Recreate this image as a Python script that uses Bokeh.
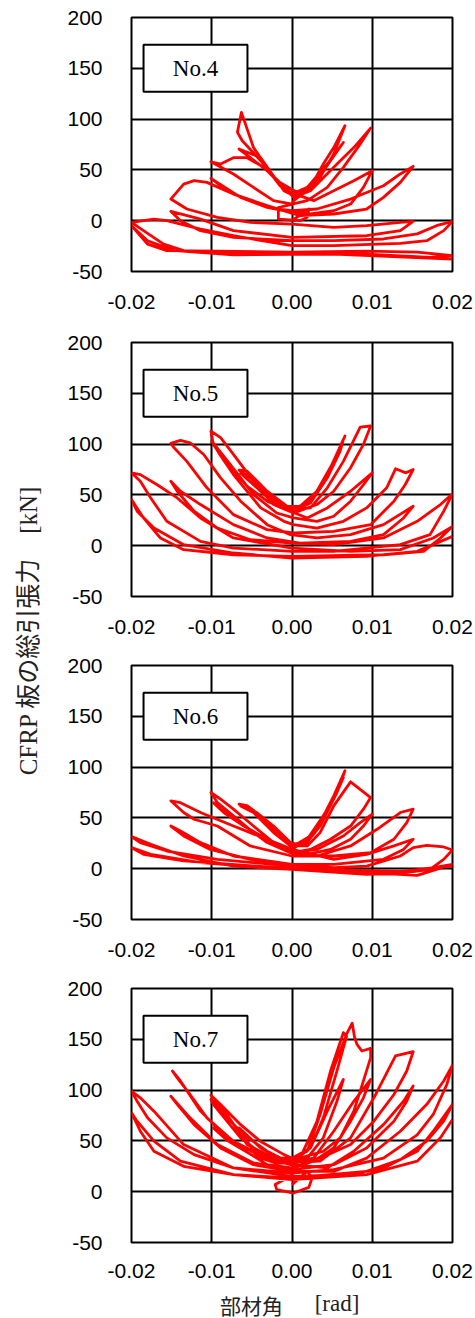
import math
from bokeh.plotting import figure
from bokeh.models import Range1d, FixedTicker
from bokeh.layouts import row, column
from bokeh.embed import file_html
from bokeh.resources import INLINE
from bokeh.core.properties import value

# ---------------- data ----------------
x_ticks = [-0.02, -0.01, 0.0, 0.01, 0.02]
x_tick_labels = ["-0.02", "-0.01", "0.00", "0.01", "0.02"]
y_ticks = [-50, 0, 50, 100, 150, 200]
y_tick_labels = ["-50", "0", "50", "100", "150", "200"]
panel_names = ["No.4", "No.5", "No.6", "No.7"]
x_title_jp = "部材角"
x_title_unit = "[rad]"
y_title = "CFRP 板の総引張力　[kN]"

# No.4
x4 = [0, 0.0021, 0.0019, 0.001, -0.0017, -0.0017, 0,
      0.0002, 0.0019, 0.0035, 0.0052, 0.0066, 0.0052, 0.0039, 0.0023, 0.0006, -0.001, -0.0031, -0.0048, -0.0063, -0.0068, -0.0062, -0.0039, -0.0015, 0,
      0.0019, 0.0044, 0.0064, 0.0048, 0.0031, 0.001, -0.0019, -0.0039, -0.0066, -0.0052, -0.0031, -0.0006, 0.0002,
      0.0023, 0.0052, 0.0077, 0.0098, 0.0085, 0.0064, 0.0044, 0.0019, 0, -0.0023, -0.0048, -0.0073, -0.0101, -0.0089, -0.0073, -0.0056, -0.0035, -0.0015, -0.0002,
      0.0027, 0.0052, 0.0077, 0.01, 0.0089, 0.0073, 0.0052, 0.0023, 0, -0.0031, -0.0064, -0.0101, -0.0081, -0.0052, -0.0019, 0,
      0.0031, 0.0073, 0.0114, 0.0135, 0.0151, 0.0135, 0.0114, 0.0093, 0.0052, 0.001, -0.0031, -0.0073, -0.0106, -0.0122, -0.0135, -0.0151, -0.0131, -0.0093, -0.0052, 0,
      0.0052, 0.0093, 0.0135, 0.0151, 0.0135, 0.0093, 0, -0.0073, -0.0114, -0.0151, -0.0139, -0.0114, -0.0073, 0,
      0.0052, 0.0114, 0.0156, 0.018, 0.02, 0.0189, 0.0168, 0.0135, 0.0052, 0, -0.0073, -0.0114, -0.0156, -0.0172, -0.02, -0.0185, -0.016, -0.0135, -0.0073, 0,
      0.0093, 0.0156, 0.02, 0.0172, 0.0093, 0, -0.0093, -0.0156, -0.018, -0.02, -0.018, -0.0147, -0.0073, 0.0052, 0.02]
y4 = [0, 11.5, 3.3, 0, 1.6, 13, 16,
      19.7, 29.5, 42.6, 65.6, 93.5, 72, 55.8, 32.8, 23, 29.5, 52.5, 72, 106.6, 87, 78.7, 59, 34.4, 26.2,
      32.8, 55.8, 77, 59, 39.4, 26.2, 39.4, 62, 70.5, 62, 49.2, 29.5, 23,
      29.5, 52.5, 72, 91.2, 75.4, 52.5, 32.8, 19.7, 16.4, 19.7, 32.8, 46, 58, 55.8, 62, 62, 52.5, 37.7, 27.9,
      19.7, 29.5, 39.4, 49.2, 32.8, 16.4, 9.8, 6.6, 8.2, 13, 23, 41.7, 29.5, 19.7, 11.5, 9.8,
      11.5, 21.3, 34.4, 46, 53.5, 37.7, 23, 11.5, 6.6, 4.9, 14.8, 26.2, 37.7, 39.4, 36, 21.3, 11.5, 3.3, -1.6, -3.3,
      -6.6, -4.9, -1.6, -0.7, -9.8, -14.8, -16.4, -9.8, 1.6, 9.2, 0, -9.8, -16.4, -19.7,
      -19.7, -18, -13, -4.9, -0.7, -9.8, -19.7, -22.3, -24.6, -24.6, -14.8, -8.2, 0, 1.6, -1.6, -9.8, -23, -29.5, -32, -31,
      -30, -31, -34.4, -36, -32.8, -31, -30, -29.5, -23, -4.9, -19.7, -29.5, -33.5, -32.8, -37.7]

# No.5
x5 = [0, 0.0023, 0.0044, 0.0066, 0.0052, 0.0031, 0.001, -0.0006, -0.0031, -0.0056, -0.0066, -0.0052, -0.0031, -0.001, 0.0002,
      0.0027, 0.0048, 0.0064, 0.006, 0.0044, 0.0023, 0.0002, -0.0023, -0.0048, -0.0064, -0.0048, -0.0023, -0.0002,
      0.0023, 0.0044, 0.0064, 0.0085, 0.0098, 0.0089, 0.0073, 0.0052, 0.0031, 0.0002, -0.0023, -0.0048, -0.0073, -0.0089, -0.0101, -0.0098, -0.0081, -0.0056, -0.0031, -0.0002,
      0.0019, 0.0044, 0.0073, 0.01, 0.0089, 0.0073, 0.0052, 0.0031, 0.0002, -0.0019, -0.0048, -0.0077, -0.01, -0.009, -0.0073, -0.0039, -0.001, 0.0002,
      0.0031, 0.0064, 0.0093, 0.0118, 0.0129, 0.0142, 0.0151, 0.0141, 0.0127, 0.0098, 0.0052, 0.0002, -0.0031, -0.0073, -0.0106, -0.0131, -0.0147, -0.0151, -0.0139, -0.0127, -0.011, -0.0089, -0.0064, -0.0031, -0.0002,
      0.0031, 0.0073, 0.0114, 0.0151, 0.0139, 0.0114, 0.0073, 0.001, -0.0031, -0.0073, -0.0114, -0.0139, -0.0151, -0.0143, -0.0122, -0.0093, -0.0052, 0,
      0.0052, 0.0114, 0.0156, 0.0185, 0.02, 0.0189, 0.0172, 0.0135, 0.0052, 0, -0.0073, -0.0114, -0.0156, -0.0176, -0.0189, -0.02, -0.0189, -0.0168, -0.0143, -0.0114, -0.0073, 0,
      0.0073, 0.0135, 0.0176, 0.02, 0.0185, 0.0164, 0.0114, 0, -0.0073, -0.0135, -0.0164, -0.0185, -0.02, -0.0193, -0.0172, -0.0135, -0.0073, 0, 0.0093, 0.0156, 0.02]
y5 = [30.6, 43.8, 70, 108, 83, 53.6, 38.8, 38.8, 53.6, 73.4, 74.4, 66.8, 50.3, 37.2, 35.5,
      47, 76.7, 104.6, 93, 66.8, 42, 33.9, 42, 60, 71.4, 66.8, 47, 35.5,
      37.2, 57, 83, 116.8, 117.8, 99.7, 76.7, 53.6, 40.5, 32.2, 40.5, 63.5, 89.8, 106.3, 112.8, 99.7, 80, 58.6, 43.8, 33.9,
      27.3, 37.2, 53.6, 71.7, 60, 43.8, 29, 24, 27.3, 32.2, 50.3, 80, 103, 89.8, 70, 37.2, 24, 20.7,
      17.4, 24, 37.2, 57, 75.7, 71.7, 75, 60, 43.8, 20.7, 14, 12.5, 15.8, 30.6, 57, 83, 96.4, 100.7, 103.6, 101.3, 89.8, 66.8, 43.8, 20.7, 10.9,
      7.6, 10.9, 20.7, 38.8, 27.3, 10.9, 4.3, 2.6, 7.6, 20.7, 40.5, 53.6, 63.5, 53.6, 33.9, 17.4, 5.9, 2.6,
      1, 7.6, 24, 40.5, 51, 33.9, 10.9, 1, -5.6, -5.6, -2.3, 4.3, 24, 47, 63.5, 71.7, 70, 60, 47, 27.3, 7.6, -2.3,
      -5.6, -3.9, 7.6, 19, 7.6, -5.6, -8.9, -10.5, -8.9, -3.9, 7.6, 27.3, 45.4, 33.9, 17.4, 1, -7.2, -12.2, -10.5, -5.6, 9.2]

# No.6
x6 = [0, 0.0019, 0.0039, 0.0056, 0.0066, 0.0052, 0.0035, 0.0019, 0.0002, -0.0019, -0.0039, -0.0056, -0.0066, -0.0052, -0.0035, -0.001, 0.0002,
      0.0023, 0.0044, 0.0064, 0.0056, 0.0035, 0.0015, -0.0002, -0.0023, -0.0044, -0.0064, -0.0048, -0.0023, -0.0002,
      0.0019, 0.0035, 0.0052, 0.0073, 0.0098, 0.0089, 0.0073, 0.0048, 0.0023, 0, -0.0023, -0.0048, -0.0073, -0.0089, -0.0101, -0.0093, -0.0073, -0.0048, -0.0019, 0.0002,
      0.0031, 0.0064, 0.0085, 0.01, 0.0089, 0.0073, 0.0048, 0.0019, -0.0002, -0.0031, -0.0064, -0.0089, -0.0098, -0.0085, -0.006, -0.0031, -0.0002,
      0.0031, 0.0073, 0.0106, 0.0135, 0.0151, 0.0143, 0.0127, 0.0098, 0.0052, 0, -0.0052, -0.0093, -0.0122, -0.0135, -0.0151, -0.0139, -0.0114, -0.0073, -0.0031, 0,
      0.0052, 0.0093, 0.0127, 0.0151, 0.0139, 0.0114, 0.0052, 0, -0.0073, -0.0114, -0.0139, -0.0151, -0.0135, -0.0102, -0.0052, 0,
      0.0052, 0.0093, 0.0135, 0.0151, 0.0168, 0.0189, 0.02, 0.0189, 0.0172, 0.0135, 0.0093, 0, -0.0073, -0.0135, -0.0176, -0.02, -0.0189, -0.0156, -0.0093, 0,
      0.0093, 0.0156, 0.02, 0.0176, 0.0135, 0, -0.0114, -0.0176, -0.02, -0.0185, -0.0135, 0, 0.0135, 0.02]
y6 = [19, 29, 52, 75, 96.4, 71.7, 45.4, 25.7, 22.4, 35.5, 52, 62, 63.5, 58.6, 48.7, 29, 22.4,
      32.2, 58.6, 89.8, 75, 42, 22.4, 25.7, 42, 55.3, 61.8, 55.3, 35.5, 22.4,
      22.4, 35.5, 61.8, 85.5, 70, 58.6, 42, 29, 19, 15.8, 25.7, 42, 58.6, 68.4, 75, 65, 52, 35.5, 22.4, 15.8,
      19, 32.2, 45.4, 53.6, 42, 29, 19, 14.1, 15.8, 25.7, 45.4, 58.6, 65, 55.3, 42, 29, 17.4,
      12.5, 22.4, 38.8, 55.3, 58.6, 45.4, 29, 15.8, 12.5, 12.5, 22.4, 42, 48.7, 55.3, 66.8, 65, 55.3, 42, 29, 19,
      9.2, 14.1, 22.4, 29, 19, 9.2, 4.3, 4.3, 12.5, 25.7, 37.2, 42, 32.2, 19, 9.2, 4.3,
      1, 2.6, 12.5, 20.7, 23, 21.4, 18.4, 9.2, -0.7, -4.6, -5.6, -0.7, 2.6, 12.5, 24, 31.6, 25.7, 17.4, 9.2, 2.6,
      -3.9, -6.6, 4.3, 1, -3.9, -0.7, 5.9, 14.1, 20.7, 14.1, 7.6, 0, -2.6, 2.6]

# No.7
x7 = [0, 0.0019, 0.0025, 0.0021, 0.0002, -0.0019, -0.0021, -0.0006, 0,
      0.001, 0.0031, 0.0048, 0.0064, 0.0068, 0.0056, 0.0039, 0.0023, 0.0002, -0.0023, -0.0048, -0.0066, -0.0039, -0.001,
      0.0019, 0.0035, 0.0052, 0.0068, 0.0075, 0.0078, 0.0081, 0.0087, 0.0098, 0.0098, 0.0089, 0.0077, 0.006, 0.0039, 0.001, -0.0023, -0.0056, -0.0081, -0.0101, -0.0089, -0.0064, -0.0039, -0.001, 0,
      0.0023, 0.0044, 0.0064, 0.0056, 0.0039, 0.0019, -0.0002, -0.0031, -0.0064, -0.0098, -0.0101, -0.0089, -0.006, -0.0031, -0.0002,
      0.0027, 0.0052, 0.0077, 0.0098, 0.0089, 0.0073, 0.0052, 0.0027, 0, -0.0031, -0.0064, -0.0098, -0.008, -0.005, -0.002,
      0.0035, 0.0073, 0.0102, 0.0129, 0.0151, 0.0143, 0.0127, 0.0102, 0.0073, 0.0035, 0, -0.0039, -0.0081, -0.0114, -0.0139, -0.0149, -0.0143, -0.0127, -0.0106, -0.0073, -0.0031, 0,
      0.0044, 0.0077, 0.0114, 0.0139, 0.0151, 0.0143, 0.0127, 0.0093, 0.0052, 0, -0.0048, -0.0093, -0.0127, -0.0151, -0.0143, -0.0122, -0.0089, -0.0048, 0,
      0.0052, 0.0093, 0.0135, 0.0168, 0.0189, 0.02, 0.0193, 0.0176, 0.0156, 0.0114, 0.0052, 0, -0.0073, -0.0135, -0.0172, -0.0189, -0.02, -0.0193, -0.018, -0.0156, -0.0122, -0.0073, 0,
      0.0073, 0.0114, 0.0156, 0.0176, 0.02, 0.0189, 0.0168, 0.0135, 0.0093, 0, -0.0073, -0.0135, -0.0172, -0.0189, -0.02, -0.0193, -0.0172, -0.0139, -0.0073, 0, 0.0093, 0.0156, 0.0185, 0.02]
y7 = [7, 20, 13.5, 4.3, -1.3, 2, 7, 13.5, 16.8,
      33, 69, 118.8, 156.6, 153, 118.8, 72.7, 43, 30, 30, 40, 62.8, 43, 30,
      39.8, 76, 122, 155, 165.8, 151.7, 145, 138.5, 141, 132, 109, 79.3, 53, 39.8, 33, 33, 46.4, 76, 95, 85.9, 66, 49.4, 36.5, 33,
      43, 79.3, 110.5, 89, 53, 33, 26.6, 33, 53, 85.9, 90.8, 79.3, 56, 39.8, 28.3,
      33, 59.5, 89, 110.5, 92.4, 69.4, 43, 30, 23.4, 26.6, 43, 62.8, 50, 36, 28,
      30, 53, 92.4, 133.6, 137.8, 118.8, 95.7, 69.4, 46.4, 33, 28.3, 34.9, 53, 79.3, 109, 118.8, 112, 95.7, 72.7, 49.7, 33, 26.6,
      23.4, 39.8, 66, 89, 104, 89, 69.4, 43, 26.6, 21.7, 28.3, 46.4, 72.7, 94, 85.9, 66, 43, 26.6, 20,
      20, 33, 59.5, 86, 109, 124.4, 105.6, 76, 56, 33, 21.7, 18.4, 23.4, 46.4, 79.3, 92.4, 99, 89, 72.7, 53, 36.5, 23.4, 15,
      16.8, 23.4, 39.8, 59.5, 85.9, 69.4, 49.7, 31.6, 20, 13.5, 16.8, 25, 39.8, 59.5, 77.6, 69.4, 49.7, 30, 16.8, 11.8, 16.8, 30, 53, 71]

series = [(x4, y4), (x5, y5), (x6, y6), (x7, y7)]

# name-box extent in data units
box_left, box_right, box_bottom, box_top = -0.0185, -0.00555, 126.9, 173.1

# ---------------- styling / layout ----------------
TICK_FONT = "Liberation Sans"
SERIF = "'Liberation Serif', 'Noto Sans CJK JP'"
LABEL_COLOR = "#222222"
borders = [(17, 51), (20, 49), (20, 49), (20, 45)]
standoffs = [23, 23, 23, 21]
STRIP_H = 31


def make_panel(i):
    top, bottom = borders[i]
    p = figure(frame_width=321, frame_height=254,
               min_border_left=86, min_border_right=23,
               min_border_top=top, min_border_bottom=bottom,
               x_range=Range1d(-0.02, 0.02), y_range=Range1d(-50, 200),
               output_backend="svg", toolbar_location=None,
               background_fill_color="white", border_fill_color="white")
    p.xaxis.ticker = FixedTicker(ticks=x_ticks)
    p.yaxis.ticker = FixedTicker(ticks=y_ticks)
    p.xaxis.major_label_overrides = dict(zip(x_ticks, x_tick_labels))
    p.yaxis.major_label_overrides = dict(zip(y_ticks, y_tick_labels))
    for ax in (p.xaxis[0], p.yaxis[0]):
        ax.axis_line_color = None
        ax.major_tick_line_color = None
        ax.minor_tick_line_color = None
        ax.major_tick_in = 0
        ax.major_tick_out = 0
        ax.major_label_text_font = TICK_FONT
        ax.major_label_text_font_size = "21px"
        ax.major_label_text_color = "black"
    p.xaxis.major_label_standoff = standoffs[i]
    p.yaxis.major_label_standoff = 29
    p.xgrid.ticker = FixedTicker(ticks=x_ticks)
    p.ygrid.ticker = FixedTicker(ticks=y_ticks)
    for g in (p.xgrid[0], p.ygrid[0]):
        g.grid_line_color = "black"
        g.grid_line_width = 2
        g.grid_line_alpha = 1.0
    p.outline_line_color = "black"
    p.outline_line_width = 2
    p.outline_line_alpha = 1.0

    xs, ys = series[i]
    p.line(xs, ys, line_color="#ff0000", line_width=2.8, line_join="round")

    p.quad(left=[box_left], right=[box_right], bottom=[box_bottom], top=[box_top],
           fill_color="white", line_color="black", line_width=2)
    p.text(x=[(box_left + box_right) / 2], y=[(box_bottom + box_top) / 2],
           text=[panel_names[i]], text_font=value("Liberation Serif"),
           text_font_size="23px", text_align="center", text_baseline="middle",
           text_color="black")
    return p


panels = [make_panel(i) for i in range(4)]

# x-axis title strip below the last panel (frame aligned with the panels' frames)
xlab = figure(frame_width=321, frame_height=STRIP_H,
              min_border_left=86, min_border_right=23,
              min_border_top=0, min_border_bottom=0,
              x_range=Range1d(0, 321), y_range=Range1d(0, STRIP_H),
              x_axis_location=None, y_axis_location=None,
              output_backend="svg", toolbar_location=None,
              background_fill_color="white", border_fill_color="white")
xlab.grid.visible = False
xlab.outline_line_color = None
xlab.text(x=[120], y=[14], text=[x_title_jp], text_font=value("Noto Sans CJK JP"),
          text_font_size="21px", text_align="center", text_baseline="middle",
          text_color=LABEL_COLOR)
xlab.text(x=[205.5], y=[15.5], text=[x_title_unit], text_font=value("Liberation Serif"),
          text_font_size="23px", text_align="center", text_baseline="middle",
          text_color=LABEL_COLOR)

# y-axis title strip at the left
lab = figure(frame_width=45, frame_height=1318, min_border=0,
             x_range=Range1d(0, 45), y_range=Range1d(0, 1318),
             x_axis_location=None, y_axis_location=None,
             output_backend="svg", toolbar_location=None,
             background_fill_color="white", border_fill_color="white")
lab.grid.visible = False
lab.outline_line_color = None
lab.text(x=[28], y=[1318 - 630], text=[y_title], angle=math.pi / 2,
         text_font=value(SERIF), text_font_size="25px",
         text_align="center", text_baseline="middle", text_color=LABEL_COLOR)

layout = row(lab, column(*panels, xlab, spacing=0), spacing=0)

open("out.html", "w").write(file_html(layout, INLINE))
